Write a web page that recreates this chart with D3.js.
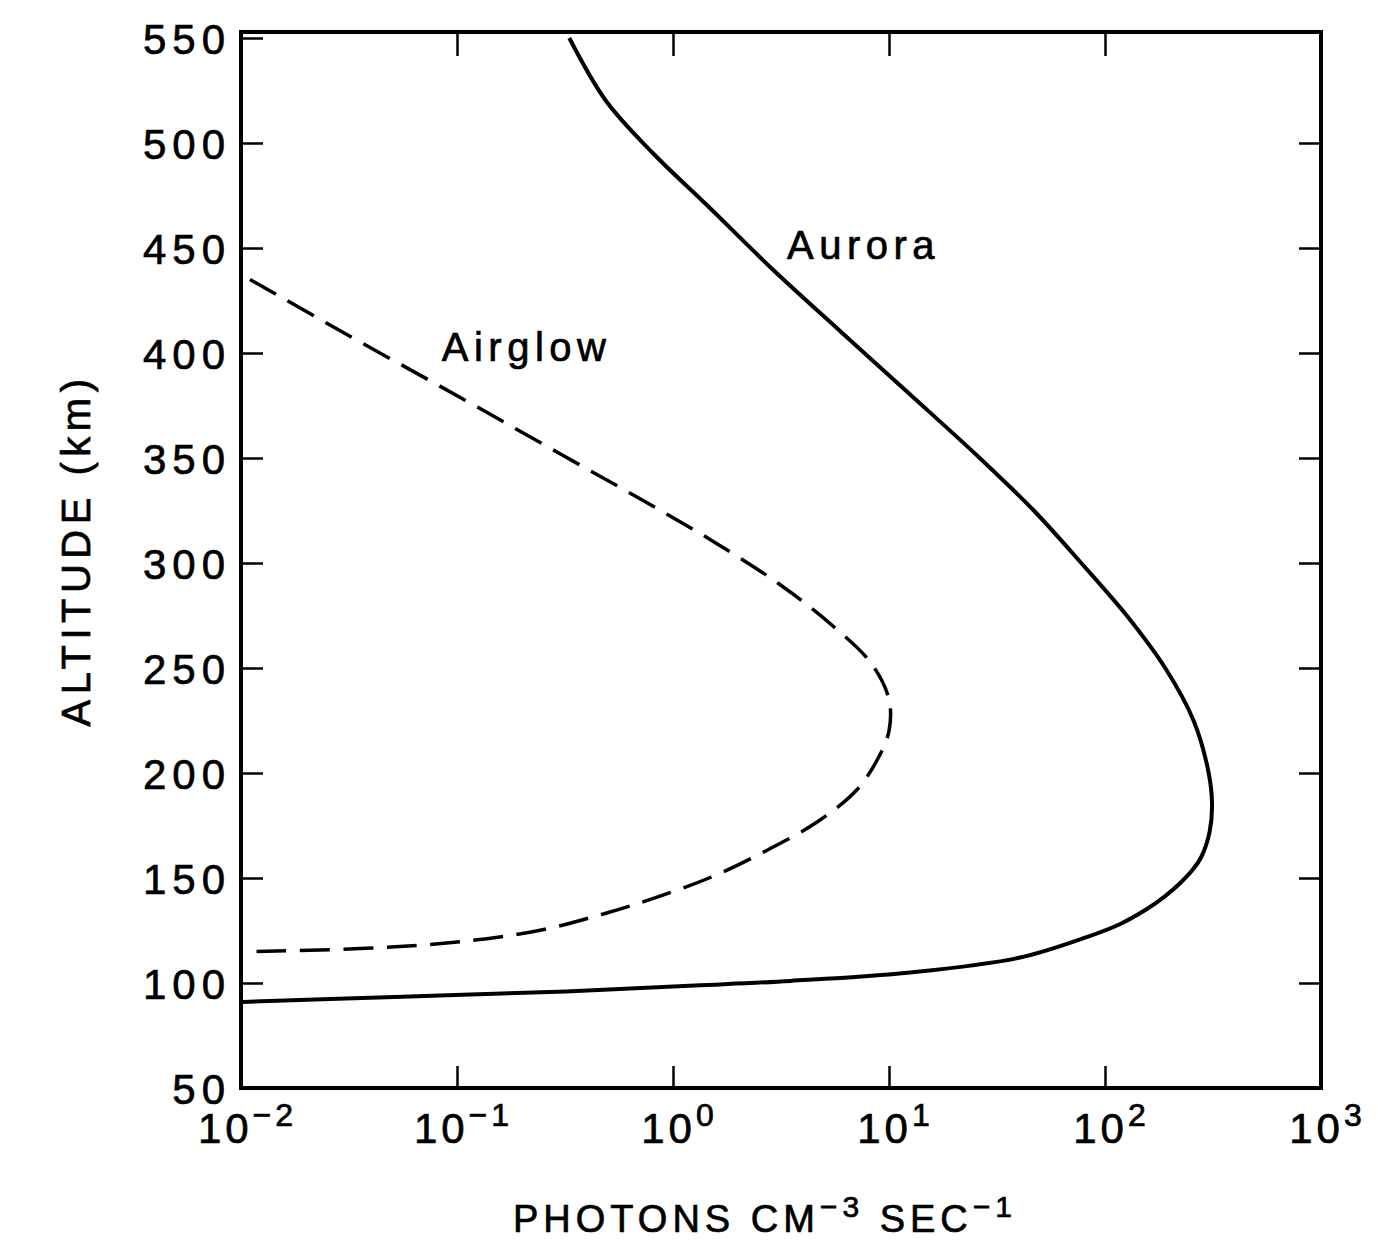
<!DOCTYPE html>
<html>
<head>
<meta charset="utf-8">
<script src="https://cdn.jsdelivr.net/npm/d3@7"></script>
<style>
  body { margin: 0; background: #fff; }
  svg text { font-family: "Liberation Sans", Arial, Helvetica, sans-serif; fill: #000; stroke: #000; stroke-width: 0.7px; }
  .axis text { font-size: 42px; letter-spacing: 6px; }
  .axis line { stroke: #000; stroke-width: 2.5px; }
  .frame { fill: none; stroke: #000; stroke-width: 4px; }
</style>
</head>
<body>
<svg id="chart"></svg>
<script>
// values (altitude km, photons cm^-3 s^-1)
const auroraAlt  = [550, 520, 495, 470, 440, 410, 380, 350, 325, 300, 275, 250, 225, 200, 185, 172, 160, 154, 148, 141, 135, 128, 122, 112, 105, 101, 98.8, 96, 93.5, 91];
const auroraRate = [0.331, 0.49, 0.81, 1.45, 2.88, 6.0, 12.6, 26.3, 46.8, 77.6, 126, 190, 257, 302, 313, 305, 279, 255, 225, 188, 155, 117, 83, 40, 12.6, 3.5, 1.26, 0.32, 0.056, 0.0102];

const airglowAlt  = [435, 405, 378, 352, 330, 310, 290, 270, 252, 235, 220, 207, 192, 177, 163, 151, 141, 133, 125, 119.5, 116.5, 115];
const airglowRate = [0.011, 0.036, 0.107, 0.30, 0.72, 1.55, 3.1, 5.5, 8.3, 10.0, 10.0, 8.9, 7.1, 4.7, 2.7, 1.55, 0.85, 0.48, 0.24, 0.10, 0.038, 0.0118];

const yTicks = [50, 100, 150, 200, 250, 300, 350, 400, 450, 500, 550];
const xTicks = [1e-2, 1e-1, 1e0, 1e1, 1e2, 1e3];
const xExponents = ['\u22122', '\u22121', '0', '1', '2', '3'];

const seriesLabels = [
  {name: 'Aurora', rate: 3.37, alt: 445},
  {name: 'Airglow', rate: 0.085, alt: 396}
];

const config = {
  width: 1378, height: 1243,
  margin: {top: 38, right: 57, bottom: 155, left: 241}
};

const svg = d3.select('#chart')
  .attr('width', config.width)
  .attr('height', config.height);

const innerW = config.width - config.margin.left - config.margin.right;
const innerH = config.height - config.margin.top - config.margin.bottom;

const xScale = d3.scaleLog().domain([1e-2, 1e3]).range([0, innerW]);
const yScale = d3.scaleLinear().domain([50, 550]).range([innerH, 0]);

const chart = svg.append('g')
  .attr('transform', `translate(${config.margin.left},${config.margin.top})`);

// frame box (top edge sits a little above 550)
const frameTop = -6;
chart.append('rect')
  .attr('class', 'frame')
  .attr('x', 0)
  .attr('y', frameTop)
  .attr('width', innerW)
  .attr('height', innerH - frameTop);

// left axis, ticks inward
const yAxisG = chart.append('g')
  .attr('class', 'axis y-axis')
  .call(d3.axisLeft(yScale).tickValues(yTicks).tickSize(-22).tickPadding(10));
yAxisG.select('.domain').remove();
yAxisG.selectAll('.tick text').attr('dy', '0.36em');

// right axis, ticks inward
const yAxisR = chart.append('g')
  .attr('class', 'axis')
  .attr('transform', `translate(${innerW},0)`)
  .call(d3.axisRight(yScale).tickValues(yTicks.slice(1, -1)).tickSize(-22).tickFormat(''));
yAxisR.select('.domain').remove();

// top ticks at decades
const xAxisT = chart.append('g')
  .attr('class', 'axis')
  .attr('transform', `translate(0,${frameTop})`)
  .call(d3.axisTop(xScale).tickValues(xTicks.slice(1, -1)).tickSize(-24).tickFormat(''));
xAxisT.select('.domain').remove();

// bottom axis
const xAxisG = chart.append('g')
  .attr('class', 'axis x-axis')
  .attr('transform', `translate(0,${innerH})`)
  .call(d3.axisBottom(xScale).tickValues(xTicks).tickSize(-22).tickFormat(''));
xAxisG.select('.domain').remove();
xAxisG.selectAll('.tick line').filter((d, i) => i === 0 || i === xTicks.length - 1).remove();

xAxisG.selectAll('.tick')
  .append('text')
  .attr('y', 55)
  .attr('x', 6)
  .style('text-anchor', 'middle')
  .style('letter-spacing', '4px')
  .each(function(d, i) {
    const t = d3.select(this);
    t.append('tspan').text('10');
    t.append('tspan')
      .attr('dy', -17)
      .style('font-size', '32px')
      .text(xExponents[i]);
  });

// curves
const line = d3.line()
  .x(d => xScale(d[0]))
  .y(d => yScale(d[1]))
  .curve(d3.curveCatmullRom.alpha(0.5));

const aurora = auroraRate.map((r, i) => [r, auroraAlt[i]]);
const airglow = airglowRate.map((r, i) => [r, airglowAlt[i]]);

chart.append('path')
  .datum(aurora)
  .attr('d', line)
  .attr('fill', 'none')
  .attr('stroke', '#000')
  .attr('stroke-width', 4);

const airglowPath = chart.append('path')
  .datum(airglow)
  .attr('d', line)
  .attr('fill', 'none')
  .attr('stroke', '#000')
  .attr('stroke-width', 3.5);

// stretch the dash period a bit so the line ends on a full dash
const dashLen = 30;
const totalLen = airglowPath.node().getTotalLength();
const nDash = Math.round((totalLen - dashLen) / 43);
const gapLen = (totalLen - dashLen) / nDash - dashLen;
airglowPath.attr('stroke-dasharray', `${dashLen},${gapLen}`);

// curve labels
chart.selectAll('.series-label')
  .data(seriesLabels)
  .enter()
  .append('text')
  .attr('class', 'series-label')
  .attr('x', d => xScale(d.rate))
  .attr('y', d => yScale(d.alt))
  .style('font-size', '40px')
  .style('letter-spacing', '5.5px')
  .text(d => d.name);

// axis titles
svg.append('text')
  .attr('transform', 'translate(90,550) rotate(-90)')
  .style('text-anchor', 'middle')
  .style('font-size', '40px')
  .style('letter-spacing', '5.5px')
  .text('ALTITUDE (km)');

const xTitle = svg.append('text')
  .attr('x', 765)
  .attr('y', 1232)
  .style('text-anchor', 'middle')
  .style('font-size', '38px')
  .style('letter-spacing', '5px');
xTitle.append('tspan').text('PHOTONS CM');
xTitle.append('tspan').attr('dy', -15).style('font-size', '30px').text('\u22123');
xTitle.append('tspan').attr('dy', 15).text(' SEC');
xTitle.append('tspan').attr('dy', -15).style('font-size', '30px').text('\u22121');
</script>
</body>
</html>
